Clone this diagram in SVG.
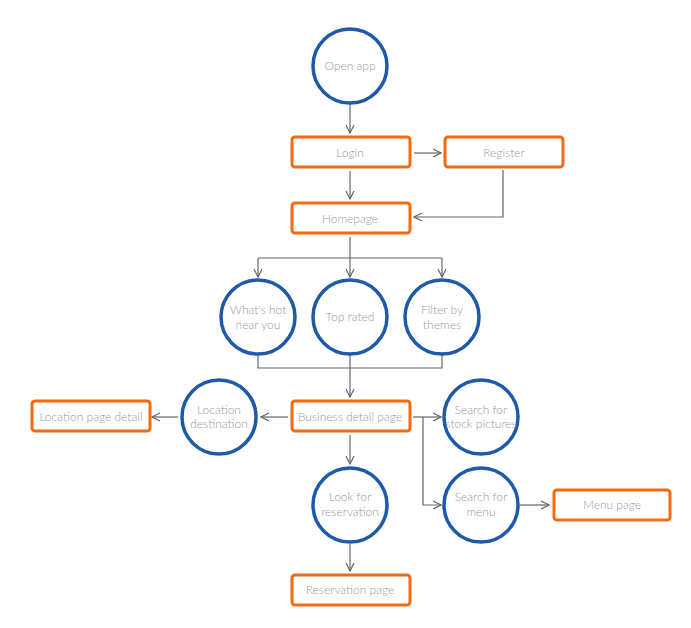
<svg xmlns="http://www.w3.org/2000/svg" width="691" height="628" viewBox="0 0 691 628">
<style>
.c{fill:#fff;stroke:#1f5aa8;stroke-width:3.5}
.r{fill:#fff;stroke:#f26a12;stroke-width:3}
text{font-family:Lato,"Liberation Sans",sans-serif;font-weight:300;font-size:12px;fill:#999;text-anchor:middle}
.l{fill:none;stroke:#666;stroke-width:1.2}
</style>
<defs><marker id="a" viewBox="0 0 10 10" refX="9" refY="5" markerWidth="10" markerHeight="10" markerUnits="userSpaceOnUse" orient="auto"><path d="M1,1 L9,5 L1,9" fill="none" stroke="#666" stroke-width="1.2"/></marker></defs>
<rect width="691" height="628" fill="#fff"/>
<g id="connectors">
<path class="l" d="M350,104V133" marker-end="url(#a)"/>
<path class="l" d="M414,153H441" marker-end="url(#a)"/>
<path class="l" d="M350,171V199" marker-end="url(#a)"/>
<path class="l" d="M503,170V217H414" marker-end="url(#a)"/>
<path class="l" d="M350,237V277"  marker-end="url(#a)"/>
<path class="l" d="M258,258H442"/>
<path class="l" d="M258,258V277" marker-end="url(#a)"/>
<path class="l" d="M442,258V277" marker-end="url(#a)"/>
<path class="l" d="M258,355V368H442V355"/>
<path class="l" d="M350,355V397" marker-end="url(#a)"/>
<path class="l" d="M288,417H261" marker-end="url(#a)"/>
<path class="l" d="M178,417H152" marker-end="url(#a)"/>
<path class="l" d="M413,417H441" marker-end="url(#a)"/>
<path class="l" d="M423,417V505H441" marker-end="url(#a)"/>
<path class="l" d="M520,505H549" marker-end="url(#a)"/>
<path class="l" d="M350,435V464" marker-end="url(#a)"/>
<path class="l" d="M350,544V571" marker-end="url(#a)"/>
</g>
<g id="open"><circle class="c" cx="350" cy="66" r="37"/><text x="350" y="70">Open app</text></g>
<g id="login"><rect class="r" x="292" y="137" width="118" height="30" rx="3"/><text x="350" y="157">Login</text></g>
<g id="register"><rect class="r" x="445" y="137" width="118" height="30" rx="3"/><text x="504" y="157">Register</text></g>
<g id="home"><rect class="r" x="292" y="203" width="118" height="30" rx="3"/><text x="350" y="223">Homepage</text></g>
<g id="hot"><circle class="c" cx="258" cy="317" r="37"/><text x="258" y="314">What's hot</text><text x="258" y="329">near you</text></g>
<g id="top"><circle class="c" cx="350" cy="317" r="37"/><text x="350" y="321">Top rated</text></g>
<g id="filter"><circle class="c" cx="442" cy="317" r="37"/><text x="442" y="314">Filter by</text><text x="442" y="329">themes</text></g>
<g id="bus"><rect class="r" x="292" y="401" width="118" height="30" rx="3"/><text x="350" y="421">Business detail page</text></g>
<g id="locdest"><circle class="c" cx="219" cy="417" r="37"/><text x="219" y="414">Location</text><text x="219" y="428">destination</text></g>
<g id="locpage"><rect class="r" x="32" y="401" width="118" height="30" rx="3"/><text x="91" y="421">Location page detail</text></g>
<g id="stock"><circle class="c" cx="481" cy="417" r="37"/><text x="481" y="414">Search for</text><text x="481" y="428">stock pictures</text></g>
<g id="menu"><circle class="c" cx="481" cy="505" r="37"/><text x="481" y="501">Search for</text><text x="481" y="516">menu</text></g>
<g id="menupage"><rect class="r" x="554" y="490" width="116" height="30" rx="3"/><text x="612" y="509">Menu page</text></g>
<g id="look"><circle class="c" cx="350" cy="505" r="37"/><text x="350" y="501">Look for</text><text x="350" y="516">reservation</text></g>
<g id="res"><rect class="r" x="292" y="575" width="118" height="30" rx="3"/><text x="350" y="594">Reservation page</text></g>
</svg>
